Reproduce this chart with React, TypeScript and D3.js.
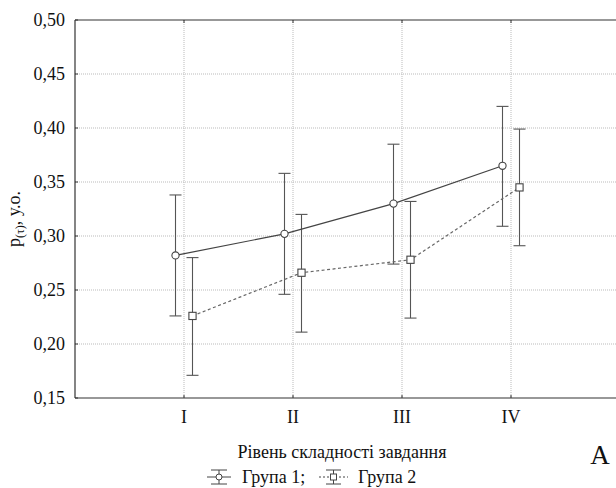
import React from "react";
import * as d3 from "d3";

const categories = ["I", "II", "III", "IV"];
const group1Mean = [0.282, 0.302, 0.330, 0.365];
const group1Upper = [0.338, 0.358, 0.385, 0.420];
const group1Lower = [0.226, 0.246, 0.274, 0.309];
const group2Mean = [0.226, 0.266, 0.278, 0.345];
const group2Upper = [0.280, 0.320, 0.332, 0.399];
const group2Lower = [0.171, 0.211, 0.224, 0.291];
const yTicks = [0.15, 0.2, 0.25, 0.3, 0.35, 0.4, 0.45, 0.5];

const W = 616;
const H = 488;
const left = 75;
const top = 20;
const bottom = 398;
const right = 620;
const FONT = "Liberation Serif, Times New Roman, Tinos, DejaVu Serif, serif";

export default function App() {
  const x = d3.scaleLinear().domain([0, categories.length + 1]).range([left, right]);
  const y = d3.scaleLinear().domain([0.15, 0.5]).range([bottom, top]);
  const fmt = (v: number) => v.toFixed(2).replace(".", ",");
  const off = 8.5;
  const cap = 6;
  const line = d3.line<number>().x((_, i) => x(i + 1) - off).y((d) => y(d));
  const line2 = d3.line<number>().x((_, i) => x(i + 1) + off).y((d) => y(d));
  const ts = { fontFamily: FONT };

  const errBars = (means: number[], lo: number[], hi: number[], dx: number, key: string) =>
    means.map((_, i) => {
      const cx = x(i + 1) + dx;
      return (
        <g key={key + i} stroke="#555" strokeWidth={1.1}>
          <line x1={cx} x2={cx} y1={y(hi[i])} y2={y(lo[i])} />
          <line x1={cx - cap} x2={cx + cap} y1={y(hi[i])} y2={y(hi[i])} />
          <line x1={cx - cap} x2={cx + cap} y1={y(lo[i])} y2={y(lo[i])} />
        </g>
      );
    });

  return (
    <svg width={W} height={H} style={{ position: "absolute", left: 0, top: 0, background: "#fff", fontFamily: FONT }}>
      <rect x={0} y={0} width={W} height={H} fill="#fff" />
      {yTicks.slice(1, -1).map((t) => (
        <line key={"gy" + t} x1={left} x2={right} y1={y(t)} y2={y(t)} stroke="#bbb" strokeWidth={1} strokeDasharray="1,1" />
      ))}
      {categories.map((c, i) => (
        <line key={"gx" + c} x1={x(i + 1)} x2={x(i + 1)} y1={top} y2={bottom} stroke="#bbb" strokeWidth={1} strokeDasharray="1,1" />
      ))}
      <line x1={left} x2={left} y1={top} y2={bottom} stroke="#333" strokeWidth={1.2} />
      <line x1={left} x2={right} y1={bottom} y2={bottom} stroke="#333" strokeWidth={1.2} />
      <line x1={left} x2={right} y1={top} y2={top} stroke="#333" strokeWidth={1.2} />
      {yTicks.map((t) => (
        <g key={"yt" + t}>
          <line x1={left} x2={left + 3} y1={y(t)} y2={y(t)} stroke="#333" />
          <text x={left - 10} y={y(t)} dy="0.35em" textAnchor="end" fontSize={18} fill="#111" style={ts}>
            {fmt(t)}
          </text>
        </g>
      ))}
      {categories.map((c, i) => (
        <g key={"xt" + c}>
          <line x1={x(i + 1)} x2={x(i + 1)} y1={bottom} y2={bottom - 3} stroke="#333" />
          <line x1={x(i + 1)} x2={x(i + 1)} y1={top} y2={top + 3} stroke="#333" />
          <text x={x(i + 1)} y={bottom + 25} textAnchor="middle" fontSize={18} fill="#111" style={ts}>
            {c}
          </text>
        </g>
      ))}
      {errBars(group1Mean, group1Lower, group1Upper, -off, "a")}
      {errBars(group2Mean, group2Lower, group2Upper, off, "b")}
      <path d={line(group1Mean) || ""} fill="none" stroke="#444" strokeWidth={1.2} />
      <path d={line2(group2Mean) || ""} fill="none" stroke="#666" strokeWidth={1.2} strokeDasharray="3,2.5" />
      {group1Mean.map((v, i) => (
        <circle key={"c" + i} cx={x(i + 1) - off} cy={y(v)} r={3.6} fill="#fff" stroke="#444" strokeWidth={1.1} />
      ))}
      {group2Mean.map((v, i) => (
        <rect key={"s" + i} x={x(i + 1) + off - 3.6} y={y(v) - 3.6} width={7.2} height={7.2} fill="#fff" stroke="#444" strokeWidth={1.1} />
      ))}
      <text transform={`translate(20,${(top + bottom) / 2 + 10}) rotate(-90)`} textAnchor="middle" fontSize={18} fill="#111" style={ts}>
        p<tspan fontSize={12} dy={4}>(τ)</tspan>
        <tspan dy={-4}>, у.о.</tspan>
      </text>
      <text x={342} y={458} textAnchor="middle" fontSize={18} fill="#111" style={ts}>
        Рівень складності завдання
      </text>
      <text x={600} y={464} textAnchor="middle" fontSize={27} fill="#111" style={ts}>
        A
      </text>
      <g stroke="#444" strokeWidth={1}>
        <line x1={207} x2={231} y1={477} y2={477} />
        <line x1={211} x2={227} y1={470} y2={470} />
        <line x1={211} x2={227} y1={484} y2={484} />
        <line x1={219} x2={219} y1={470} y2={484} />
        <circle cx={219} cy={477} r={3} fill="#fff" />
      </g>
      <text x={242} y={483} fontSize={18} fill="#111" style={ts}>Група 1;</text>
      <g stroke="#444" strokeWidth={1}>
        <line x1={319} x2={348} y1={477} y2={477} strokeDasharray="2,2" />
        <line x1={326} x2={341} y1={470} y2={470} />
        <line x1={326} x2={341} y1={484} y2={484} />
        <line x1={333.5} x2={333.5} y1={470} y2={484} />
        <rect x={330.5} y={474} width={6} height={6} fill="#fff" />
      </g>
      <text x={358} y={483} fontSize={18} fill="#111" style={ts}>Група 2</text>
    </svg>
  );
}
